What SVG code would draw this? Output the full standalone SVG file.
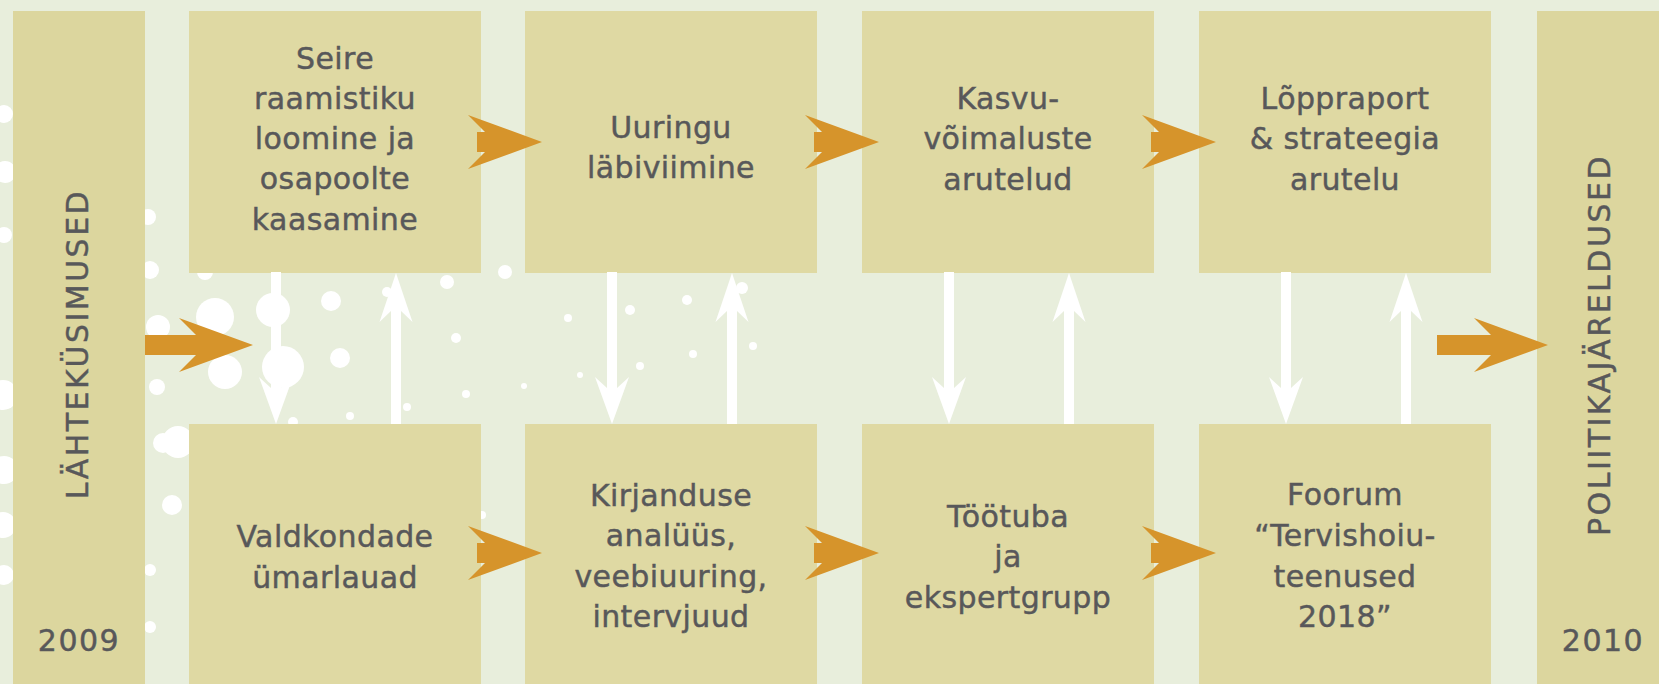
<svg xmlns="http://www.w3.org/2000/svg" width="1659" height="684" viewBox="0 0 1659 684">
<style>
.bg{fill:#e8eedc}
.box{fill:#dfd9a3}
.bar{fill:#dcd69e}
.t{font-family:"DejaVu Sans",sans-serif;font-size:30px;fill:#58585a;stroke:#58585a;stroke-width:0.45px;text-anchor:middle;letter-spacing:0.4px}
.v{font-family:"DejaVu Sans",sans-serif;font-size:30px;fill:#58585a;stroke:#58585a;stroke-width:0.45px;text-anchor:middle;letter-spacing:2.5px}
.yr{font-family:"DejaVu Sans",sans-serif;font-size:30px;fill:#58585a;stroke:#58585a;stroke-width:0.45px;text-anchor:middle;letter-spacing:1.5px}
.o{fill:#d6942b}
.w{fill:#ffffff}
.dot{fill:#ffffff}
</style>
<defs>
<path id="oa" d="M0 0 L-74 -27 L-57 -10 L-65 -10 L-65 10 L-57 10 L-74 27 Z"/>
<path id="down" d="M-5 0 L5 0 L5 116 L17 105 L0 152 L-17 105 L-5 116 Z"/>
<path id="up" d="M-5 151 L5 151 L5 38 L16.5 49 L0 0 L-16.5 49 L-5 38 Z"/>
</defs>
<rect class="bg" x="0" y="0" width="1659" height="684"/>
<g id="dots">
<circle class="dot" cx="4" cy="114" r="9"/>
<circle class="dot" cx="5" cy="172" r="11"/>
<circle class="dot" cx="4" cy="235" r="8"/>
<circle class="dot" cx="3" cy="395" r="15"/>
<circle class="dot" cx="4" cy="470" r="14"/>
<circle class="dot" cx="3" cy="525" r="13"/>
<circle class="dot" cx="4" cy="575" r="10"/>
<circle class="dot" cx="148" cy="217" r="8"/>
<circle class="dot" cx="150" cy="270" r="9"/>
<circle class="dot" cx="205" cy="272" r="8"/>
<circle class="dot" cx="273" cy="310" r="17"/>
<circle class="dot" cx="215" cy="317" r="19"/>
<circle class="dot" cx="158" cy="327" r="12"/>
<circle class="dot" cx="225" cy="372" r="17"/>
<circle class="dot" cx="283" cy="367" r="21"/>
<circle class="dot" cx="331" cy="301" r="10"/>
<circle class="dot" cx="340" cy="358" r="10"/>
<circle class="dot" cx="350" cy="416" r="4"/>
<circle class="dot" cx="293" cy="422" r="5"/>
<circle class="dot" cx="387" cy="292" r="5"/>
<circle class="dot" cx="407" cy="407" r="4"/>
<circle class="dot" cx="157" cy="387" r="8"/>
<circle class="dot" cx="178" cy="442" r="16"/>
<circle class="dot" cx="163" cy="443" r="10"/>
<circle class="dot" cx="172" cy="505" r="10"/>
<circle class="dot" cx="150" cy="570" r="6"/>
<circle class="dot" cx="150" cy="627" r="6"/>
<circle class="dot" cx="447" cy="282" r="7"/>
<circle class="dot" cx="505" cy="272" r="7"/>
<circle class="dot" cx="456" cy="338" r="5"/>
<circle class="dot" cx="466" cy="394" r="4"/>
<circle class="dot" cx="524" cy="386" r="3"/>
<circle class="dot" cx="568" cy="318" r="4"/>
<circle class="dot" cx="580" cy="375" r="3"/>
<circle class="dot" cx="630" cy="310" r="5"/>
<circle class="dot" cx="640" cy="366" r="4"/>
<circle class="dot" cx="687" cy="300" r="5"/>
<circle class="dot" cx="693" cy="354" r="4"/>
<circle class="dot" cx="742" cy="288" r="6"/>
<circle class="dot" cx="753" cy="346" r="4"/>
<circle class="dot" cx="470" cy="460" r="4"/>
<circle class="dot" cx="482" cy="515" r="4"/>
<circle class="dot" cx="470" cy="600" r="4"/>
</g>
<g id="lahtekysimused">
<rect class="bar" x="13" y="11" width="132" height="673"/>
<text class="v" transform="translate(88 344) rotate(-90)">LÄHTEKÜSIMUSED</text>
<text class="yr" x="79" y="651">2009</text>
</g>
<g id="politikajareldused">
<rect class="bar" x="1537" y="11" width="122" height="673"/>
<text class="v" transform="translate(1610 345) rotate(-90)">POLIITIKAJÄRELDUSED</text>
<text class="yr" x="1603" y="651">2010</text>
</g>
<g id="seire">
<rect class="box" x="189" y="11" width="292" height="262"/>
<text class="t"><tspan x="335" y="69">Seire</tspan><tspan x="335" y="109">raamistiku</tspan><tspan x="335" y="149">loomine ja</tspan><tspan x="335" y="189">osapoolte</tspan><tspan x="335" y="230">kaasamine</tspan></text>
</g>
<g id="uuringu">
<rect class="box" x="525" y="11" width="292" height="262"/>
<text class="t"><tspan x="671" y="138">Uuringu</tspan><tspan x="671" y="178">läbiviimine</tspan></text>
</g>
<g id="kasvu">
<rect class="box" x="862" y="11" width="292" height="262"/>
<text class="t"><tspan x="1008" y="109">Kasvu-</tspan><tspan x="1008" y="149">võimaluste</tspan><tspan x="1008" y="190">arutelud</tspan></text>
</g>
<g id="lopparaport">
<rect class="box" x="1199" y="11" width="292" height="262"/>
<text class="t"><tspan x="1345" y="109">Lõppraport</tspan><tspan x="1345" y="149">&amp; strateegia</tspan><tspan x="1345" y="190">arutelu</tspan></text>
</g>
<g id="valdkondade">
<rect class="box" x="189" y="424" width="292" height="260"/>
<text class="t"><tspan x="335" y="547">Valdkondade</tspan><tspan x="335" y="588">ümarlauad</tspan></text>
</g>
<g id="kirjanduse">
<rect class="box" x="525" y="424" width="292" height="260"/>
<text class="t"><tspan x="671" y="506">Kirjanduse</tspan><tspan x="671" y="546">analüüs,</tspan><tspan x="671" y="587">veebiuuring,</tspan><tspan x="671" y="627">intervjuud</tspan></text>
</g>
<g id="tootuba">
<rect class="box" x="862" y="424" width="292" height="260"/>
<text class="t"><tspan x="1008" y="527">Töötuba</tspan><tspan x="1008" y="567">ja</tspan><tspan x="1008" y="608">ekspertgrupp</tspan></text>
</g>
<g id="foorum">
<rect class="box" x="1199" y="424" width="292" height="260"/>
<text class="t"><tspan x="1345" y="505">Foorum</tspan><tspan x="1345" y="546">“Tervishoiu-</tspan><tspan x="1345" y="587">teenused</tspan><tspan x="1345" y="627">2018”</tspan></text>
</g>
<g id="connectors">
<path class="o" d="M253 345 L179 318 L196 335 L145 335 L145 355 L196 355 L179 372 Z"/>
<path class="o" d="M1548 345 L1474 318 L1491 335 L1437 335 L1437 355 L1491 355 L1474 372 Z"/>
<use href="#oa" class="o" x="542" y="142"/>
<use href="#oa" class="o" x="879" y="142"/>
<use href="#oa" class="o" x="1216" y="142"/>
<use href="#oa" class="o" x="542" y="553"/>
<use href="#oa" class="o" x="879" y="553"/>
<use href="#oa" class="o" x="1216" y="553"/>
<use href="#down" class="w" x="276" y="272"/>
<use href="#up" class="w" x="396" y="273"/>
<use href="#down" class="w" x="612" y="272"/>
<use href="#up" class="w" x="732" y="273"/>
<use href="#down" class="w" x="949" y="272"/>
<use href="#up" class="w" x="1069" y="273"/>
<use href="#down" class="w" x="1286" y="272"/>
<use href="#up" class="w" x="1406" y="273"/>
</g>
</svg>
